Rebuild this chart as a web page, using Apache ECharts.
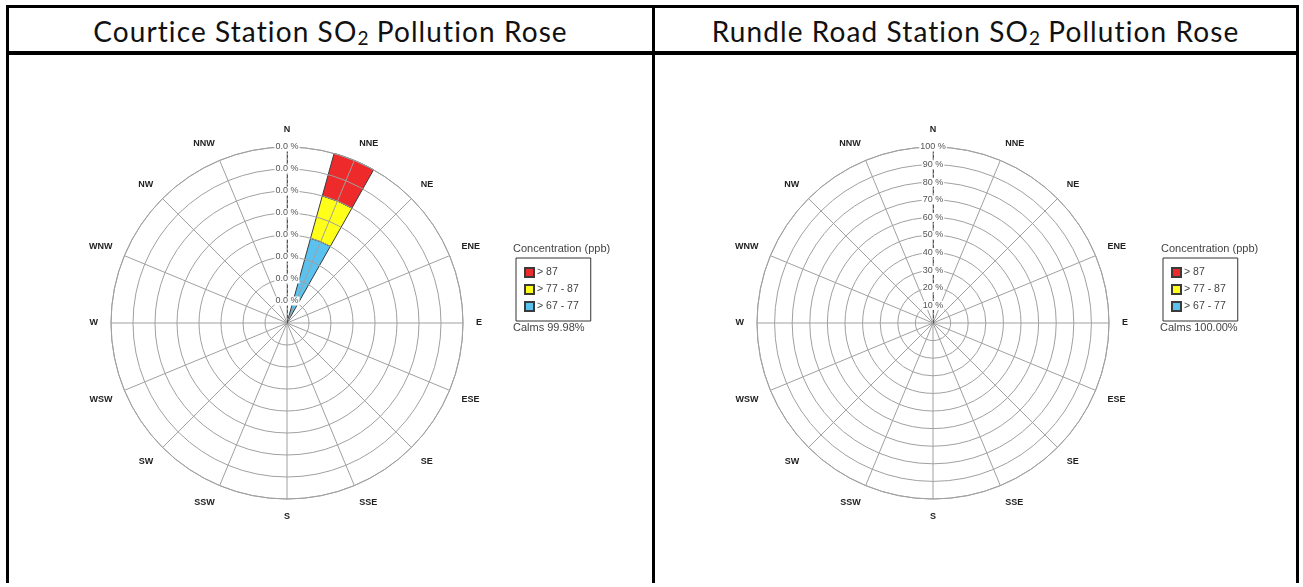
<!DOCTYPE html>
<html>
<head>
<meta charset="utf-8">
<title>SO2 Pollution Rose</title>
<script src="https://cdn.jsdelivr.net/npm/echarts@6/dist/echarts.min.js"></script>
<style>
  html, body { margin: 0; padding: 0; background: #ffffff; }
  body { width: 1303px; height: 587px; position: relative; overflow: hidden; }
  .line { position: absolute; background: #000000; }
  .title {
    position: absolute; top: 8px; height: 43px; line-height: 47px;
    text-align: center; font-family: Lato, "Open Sans", sans-serif;
    font-size: 28px; letter-spacing: 1.1px; color: #111111;
  }
  .title sub { font-size: 19px; vertical-align: -3px; line-height: 0; letter-spacing: 0; }
  #chart { position: absolute; left: 0; top: 0; width: 1303px; height: 587px; }
</style>
</head>
<body>
<!-- table frame -->
<div class="line" style="left:6px; top:5px; width:1293px; height:3px;"></div>
<div class="line" style="left:6px; top:51px; width:1293px; height:4px;"></div>
<div class="line" style="left:6px; top:5px; width:3px; height:578px;"></div>
<div class="line" style="left:652px; top:5px; width:3px; height:578px;"></div>
<div class="line" style="left:1296px; top:5px; width:3px; height:578px;"></div>
<div class="title" style="left:9px; width:643px;">Courtice Station SO<sub>2</sub> Pollution Rose</div>
<div class="title" style="left:655px; width:641px;">Rundle Road Station SO<sub>2</sub> Pollution Rose</div>

<div id="chart"></div>

<script>
// 16 compass sectors, clockwise from north
const directions = ['N', 'NNE', 'NE', 'ENE', 'E', 'ESE', 'SE', 'SSE',
                    'S', 'SSW', 'SW', 'WSW', 'W', 'WNW', 'NW', 'NNW'];
const bandNames = ['> 67 - 77', '> 77 - 87', '> 87'];   // inner -> outer
const legendOrder = ['> 87', '> 77 - 87', '> 67 - 77'];

// Courtice: frequency (%) per direction for each concentration band
const courtice67 = [0, 0.01, 0, 0, 0, 0, 0, 0, 0, 0, 0, 0, 0, 0, 0, 0];
const courtice77 = [0, 0.005, 0, 0, 0, 0, 0, 0, 0, 0, 0, 0, 0, 0, 0, 0];
const courtice87 = [0, 0.005, 0, 0, 0, 0, 0, 0, 0, 0, 0, 0, 0, 0, 0, 0];
const courticeMax = 0.02;
const courticeStep = 0.0025;
const courticeCalms = 'Calms 99.98%';

// Rundle Road: no exceedances at all
const rundle67 = [0, 0, 0, 0, 0, 0, 0, 0, 0, 0, 0, 0, 0, 0, 0, 0];
const rundle77 = [0, 0, 0, 0, 0, 0, 0, 0, 0, 0, 0, 0, 0, 0, 0, 0];
const rundle87 = [0, 0, 0, 0, 0, 0, 0, 0, 0, 0, 0, 0, 0, 0, 0, 0];
const rundleMax = 100;
const rundleStep = 10;
const rundleCalms = 'Calms 100.00%';

const legendTitle = 'Concentration (ppb)';
const bandColors = ['#5bc2ef', '#ffff1a', '#ee2a2a'];
const gridColor = '#a0a0a0';
const smallFont = 'Arial, "Liberation Sans", sans-serif';

const chart = echarts.init(document.getElementById('chart'));

// sectors are bands centred on the compass points, so the axis starts half a sector early
const halfSector = 360 / directions.length / 2;

function angleAxis(idx) {
  return {
    polarIndex: idx,
    type: 'category',
    data: directions,
    boundaryGap: true,
    startAngle: 90 + halfSector,
    clockwise: true,
    z: 10,
    axisLine: { lineStyle: { color: gridColor, width: 1 } },
    axisTick: { show: false, alignWithLabel: true },
    axisLabel: {
      margin: 13,
      fontFamily: smallFont,
      fontSize: 9,
      fontWeight: 'bold',
      color: '#222'
    },
    splitLine: { show: true, lineStyle: { color: gridColor, width: 1 } }
  };
}

function ringAxis(idx, max, step) {
  return {
    polarIndex: idx,
    type: 'value',
    min: 0,
    max: max,
    interval: step,
    z: 10,
    axisLine: { show: false },
    axisTick: { show: false },
    axisLabel: { show: false },
    splitLine: { show: true, lineStyle: { color: gridColor, width: 1 } }
  };
}

// overlay: dashed north spoke carrying the percentage labels
function northAxis(idx, max, step, fmt) {
  return {
    polarIndex: idx,
    type: 'value',
    min: 0,
    max: max,
    interval: step,
    z: 12,
    axisLine: { lineStyle: { color: '#555', type: [3, 2], width: 1 } },
    axisTick: { show: false },
    axisLabel: {
      showMinLabel: false,
      margin: 0,
      align: 'center',
      verticalAlign: 'middle',
      fontFamily: smallFont,
      fontSize: 9,
      color: '#555',
      backgroundColor: '#fff',
      padding: [0, 1],
      formatter: fmt
    },
    splitLine: { show: false }
  };
}

function hiddenAngle(idx) {
  return { polarIndex: idx, type: 'value', min: 0, max: 360, startAngle: 90, show: false };
}

function roseSeries(idx, bands) {
  return bands.map((vals, k) => ({
    name: bandNames[k],
    type: 'bar',
    coordinateSystem: 'polar',
    polarIndex: idx,
    stack: 'rose' + idx,
    barWidth: '62%',
    data: vals,
    itemStyle: { color: bandColors[k], borderColor: '#3a3a3a', borderWidth: 1 },
    emphasis: { disabled: true }
  }));
}

function legendBox(left) {
  return {
    data: legendOrder,
    orient: 'vertical',
    left: left,
    top: 258,
    icon: 'rect',
    itemWidth: 9,
    itemHeight: 9,
    itemGap: 6,
    padding: [9, 12, 9, 8],
    borderColor: '#333',
    borderWidth: 1,
    textStyle: { fontFamily: smallFont, fontSize: 10.5, color: '#444', padding: [0, 0, 0, -2] }
  };
}

function sideText(left, top, text) {
  return {
    type: 'text',
    left: left,
    top: top,
    style: { text: text, fontFamily: smallFont, fontSize: 11, fill: '#444' }
  };
}

const option = {
  animation: false,
  polar: [
    { center: [287, 323], radius: 176 },
    { center: [933, 323], radius: 176 },
    { center: [287, 323], radius: 176 },
    { center: [933, 323], radius: 176 }
  ],
  angleAxis: [angleAxis(0), angleAxis(1), hiddenAngle(2), hiddenAngle(3)],
  radiusAxis: [
    ringAxis(0, courticeMax, courticeStep),
    ringAxis(1, rundleMax, rundleStep),
    northAxis(2, courticeMax, courticeStep, v => v.toFixed(1) + ' %'),
    northAxis(3, rundleMax, rundleStep, v => v + ' %')
  ],
  legend: [legendBox(516), legendBox(1163)],
  graphic: [
    sideText(513, 243, legendTitle),
    sideText(513, 322, courticeCalms),
    sideText(1161, 243, legendTitle),
    sideText(1160, 322, rundleCalms)
  ],
  series: [
    ...roseSeries(0, [courtice67, courtice77, courtice87]),
    ...roseSeries(1, [rundle67, rundle77, rundle87])
  ]
};

chart.setOption(option);
</script>
</body>
</html>
